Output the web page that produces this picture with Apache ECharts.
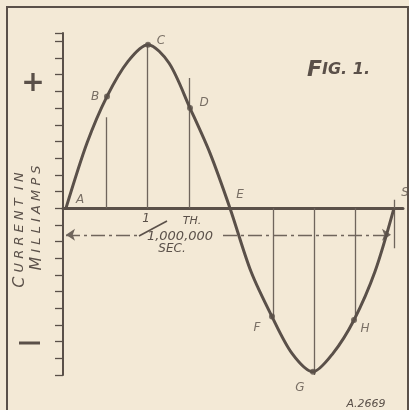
<!DOCTYPE html>
<html>
<head>
<meta charset="utf-8">
<script src="https://cdn.jsdelivr.net/npm/echarts@6/dist/echarts.min.js"></script>
<style>
html,body{margin:0;padding:0;background:#f3e9d6;}
#c{width:409px;height:410px;}
</style>
</head>
<body>
<div id="c"></div>
<script>
// ---- data ----
const curveX = [3, 24, 44, 65, 85, 106, 127, 147, 167, 188, 209, 229, 250, 270, 291, 312, 331];
const curveY = [0, 3.9, 6.7, 8.8, 9.8, 8.7, 6.0, 3.3, 0, -3.8, -6.5, -8.7, -9.8, -8.7, -6.7, -3.8, 0];
const pointNames = ['A', 'B', 'C', 'D', 'E', 'F', 'G', 'H', 'S'];
const pointX = [3, 44, 85, 127, 167, 209, 250, 291, 331];
const pointY = [0, 6.7, 9.8, 6.0, 0, -6.5, -9.8, -6.7, 0];
const dropX = [43, 84, 126, 210, 251, 292, 331];
const dropFrom = [5.45, 9.8, 7.8, 0, 0, 0, 0.5];
const dropTo = [0, 0, 0, -6.5, -10, -6.7, -2.4];
const spanY = -1.6;
const spanLeft = [3, 77];
const spanRight = [160, 328];
const yMin = -10, yMax = 10.5, yStep = 1;
const xMin = 0, xMax = 340;

const INK = '#5a5049';
const INK2 = '#6f655c';

// label placement (style, not data)
const labelOffset = {A:[14,-8],B:[-12,0],C:[13,-4],D:[14,-5],E:[10,-13],F:[-15,11],G:[-13,16],H:[11,9],S:[11,-15]};
const dotted = {B:1,C:1,D:1,F:1,G:1,H:1};

const chart = echarts.init(document.getElementById('c'), null, {renderer:'canvas'});

const pts = pointNames.map((n,i)=>({
  name:n, value:[pointX[i], pointY[i]],
  symbolSize: dotted[n] ? 6 : 0,
  label:{offset: labelOffset[n]}
}));

const drops = dropX.map((x,i)=>({coords:[[x,dropFrom[i]],[x,dropTo[i]]]}));

const font = '"DejaVu Sans", sans-serif';

chart.setOption({
  backgroundColor:'#f3e9d6',
  animation:false,
  grid:{left:63, right:6, top:33, bottom:35},
  xAxis:{type:'value', min:xMin, max:xMax,
    axisLine:{show:true, onZero:true, lineStyle:{color:INK, width:3}},
    axisTick:{show:false}, axisLabel:{show:false}, splitLine:{show:false}},
  yAxis:{type:'value', min:yMin, max:yMax, interval:yStep,
    axisLine:{show:true, lineStyle:{color:INK, width:2}},
    axisTick:{show:true, length:8, lineStyle:{color:INK, width:1.3}},
    axisLabel:{show:false}, splitLine:{show:false}},
  series:[
    {type:'lines', coordinateSystem:'cartesian2d', silent:true,
      lineStyle:{color:INK2, width:1.3, opacity:1},
      data: drops, z:2},
    {type:'lines', coordinateSystem:'cartesian2d', silent:true,
      symbol:['arrow','none'], symbolSize:[9,9],
      lineStyle:{color:INK2, width:1.3, type:[14,4,3,4], opacity:1},
      data:[{coords:[[spanLeft[0],spanY],[spanLeft[1],spanY]]}], z:2},
    {type:'lines', coordinateSystem:'cartesian2d', silent:true,
      symbol:['none','arrow'], symbolSize:[9,9],
      lineStyle:{color:INK2, width:1.3, type:[14,4,3,4], opacity:1},
      data:[{coords:[[spanRight[0],spanY],[spanRight[1],spanY]]}], z:2},
    {type:'line', data: curveX.map((x,i)=>[x,curveY[i]]), smooth:0.3,
      showSymbol:false, lineStyle:{color:INK, width:3}, z:3},
    {type:'scatter', data: pts, itemStyle:{color:INK}, z:4, clip:false,
      label:{show:true, position:'inside', formatter:'{b}', color:INK,
        fontSize:12, fontStyle:'italic', fontFamily:font}}
  ],
  graphic:[
    {type:'rect', shape:{x:7, y:7, width:401, height:410}, style:{fill:'none', stroke:INK, lineWidth:2}, silent:true},
    {type:'text', x:307, y:70, style:{text:'{a|F}{b|IG. 1.}', rich:{a:{fontSize:22, fontStyle:'italic', fontWeight:'bold', fill:INK, fontFamily:font}, b:{fontSize:16, fontStyle:'italic', fontWeight:'bold', fill:INK, fontFamily:font}}, verticalAlign:'middle'}},
    {type:'text', x:366, y:404, style:{text:'A.2669', fontSize:11, fontStyle:'italic', fill:INK, fontFamily:font, align:'center', verticalAlign:'middle'}},
    {type:'text', x:33, y:84, style:{text:'+', fontSize:28, fontWeight:'bold', fill:INK, fontFamily:font, align:'center', verticalAlign:'middle'}},
    {type:'line', shape:{x1:19, y1:343, x2:40, y2:343}, style:{stroke:INK, lineWidth:3}},
    {type:'text', x:20, y:230, rotation:Math.PI/2, style:{text:'{a|C}{b| U R R E N T  I N}', rich:{a:{fontSize:16, fontStyle:'italic', fill:INK, fontFamily:font}, b:{fontSize:13, fontStyle:'italic', fill:INK, fontFamily:font}}, align:'center', verticalAlign:'middle'}},
    {type:'text', x:37, y:218, rotation:Math.PI/2, style:{text:'{a|M}{b| I L L I A M P S}', rich:{a:{fontSize:16, fontStyle:'italic', fill:INK, fontFamily:font}, b:{fontSize:13, fontStyle:'italic', fill:INK, fontFamily:font}}, align:'center', verticalAlign:'middle'}},
    {type:'text', x:146, y:219, style:{text:'1', fontSize:12, fontStyle:'italic', fill:INK, fontFamily:font, align:'center', verticalAlign:'middle'}},
    {type:'line', shape:{x1:139, y1:236, x2:167, y2:221}, style:{stroke:INK, lineWidth:1.6}},
    {type:'text', x:192, y:221, style:{text:'TH.', fontSize:11, fontStyle:'italic', fill:INK, fontFamily:font, align:'center', verticalAlign:'middle'}},
    {type:'text', x:180, y:237, style:{text:'1,000,000', fontSize:13, fontStyle:'italic', fill:INK, fontFamily:font, align:'center', verticalAlign:'middle'}},
    {type:'text', x:172, y:249, style:{text:'SEC.', fontSize:12, fontStyle:'italic', fill:INK, fontFamily:font, align:'center', verticalAlign:'middle'}}
  ]
});
</script>
</body>
</html>
